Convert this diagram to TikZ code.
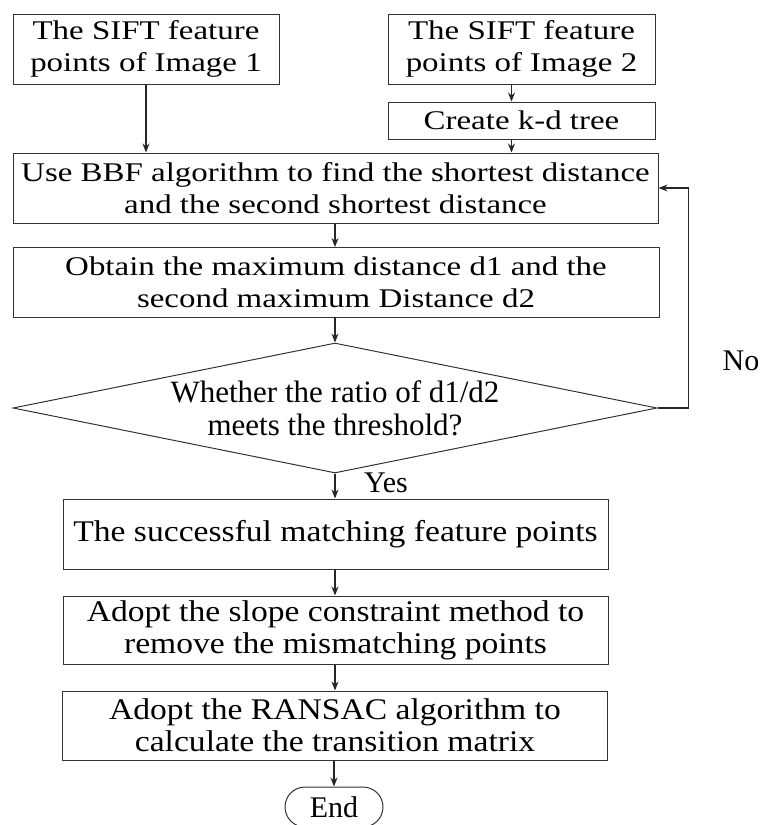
\documentclass[tikz,border=0pt]{standalone}
\usepackage{fontspec}
\setmainfont{Liberation Serif}
\newfontfamily\upfont{Liberation Serif}[FakeStretch=1.22]
\newfontfamily\lowfont{Liberation Serif}[FakeStretch=1.12]
\usetikzlibrary{positioning, arrows.meta, shapes.geometric}

\begin{document}
\begin{tikzpicture}[
      x=1pt, y=-1pt,
      node_up/.style={rectangle, draw=black!80, line width=1pt, inner sep=0pt, align=center, font=\upfont\fontsize{27}{32}\selectfont},
      node_low/.style={rectangle, draw=black!80, line width=1pt, inner sep=0pt, align=center, minimum width=545pt, font=\lowfont\fontsize{30}{32}\selectfont},
      node_dec/.style={diamond, draw=black!80, line width=1pt, aspect=4.95, inner sep=0pt, minimum width=644pt, minimum height=130pt, align=center, font=\fontsize{31}{33}\selectfont},
      node_end/.style={rectangle, rounded corners=20pt, draw=black!80, line width=1pt, minimum width=98pt, minimum height=40pt, font=\fontsize{30}{32}\selectfont},
      node_lbl/.style={font=\fontsize{30}{32}\selectfont, inner sep=0pt},
      edge_path/.style={-{Stealth[length=9pt, width=7pt]}, line width=1.1pt, black!85},
      node distance=17pt
    ]
      \useasboundingbox (0,0) rectangle (762,825);

      \node[node_up, minimum width=266pt, minimum height=70pt] (Img1) at (146,49) {The SIFT feature\\points of Image 1};
      \node[node_up, minimum width=267pt, minimum height=70pt] (Img2) at (521.5,49) {The SIFT feature\\points of Image 2};
      \node[node_up, minimum width=267pt, minimum height=37pt, below=of Img2] (Kd) {Create k-d tree};
      \node[node_up, minimum width=645pt, minimum height=70pt] (Bbf) at (335.5,188) {Use BBF algorithm to find the shortest distance\\and the second shortest distance};
      \node[node_up, minimum width=646pt, minimum height=70pt] (Dist) at (336,282.5) {Obtain the maximum distance d1 and the\\second maximum Distance d2};
      \node[node_dec] (Ratio) at (335,408) {Whether the ratio of d1/d2\\meets the threshold?};
      \node[node_low, minimum height=70pt] (Match) at (335.5,534) {The successful matching feature points};
      \node[node_low, minimum height=68pt] (Slope) at (335.5,630) {Adopt the slope constraint method to\\remove the mismatching points};
      \node[node_low, minimum height=69pt] (Ransac) at (335,725.5) {Adopt the RANSAC algorithm to\\calculate the transition matrix};
      \node[node_end] (End) at (334,807) {End};

      \node[node_lbl] (Yes) at (386,483) {Yes};
      \node[node_lbl] (No) at (741,361) {No};

      \draw[edge_path] (Img1) to (Img1 |- Bbf.north);
      \draw[edge_path] ([xshift=-10pt]Img2.south) to ([xshift=-10pt]Kd.north);
      \draw[edge_path] ([xshift=-10pt]Kd.south) to ([xshift=-10pt]Kd.south |- Bbf.north);
      \draw[edge_path] (Bbf.south -| Ratio.north) to (Dist.north -| Ratio.north);
      \draw[edge_path] (Dist.south -| Ratio.north) to (Ratio.north);
      \draw[edge_path] (Ratio.east) -- ++(31,0) |- (Bbf.east);
      \draw[edge_path] (Ratio.south) to (Ratio.south |- Match.north);
      \draw[edge_path] (Match.south -| Ratio.south) to (Slope.north -| Ratio.south);
      \draw[edge_path] (Slope.south -| Ratio.south) to (Ransac.north -| Ratio.south);
      \draw[edge_path] (Ransac.south -| End.north) to (End.north);
    \end{tikzpicture}
\end{document}
